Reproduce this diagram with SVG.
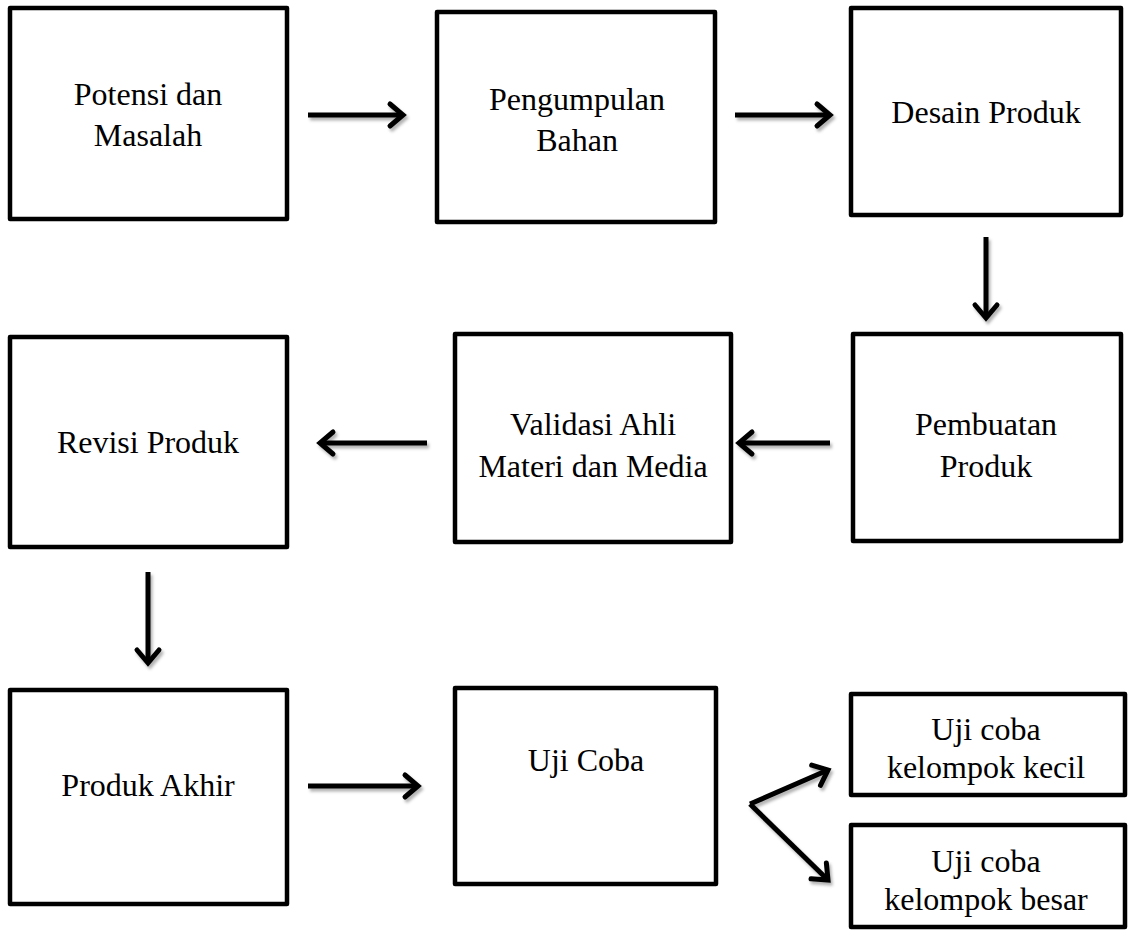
<svg xmlns="http://www.w3.org/2000/svg" width="1130" height="931" viewBox="0 0 1130 931">
<style>
.box{fill:#fff;stroke:#000;stroke-width:4.5;stroke-linejoin:round}
.t{font-family:"Liberation Serif","Times New Roman",serif;font-size:32px;fill:#000;text-anchor:middle}
.c{fill:none;stroke:#000;stroke-width:5;stroke-linecap:butt}
</style>
<defs>
<marker id="ah" markerUnits="userSpaceOnUse" markerWidth="40" markerHeight="40" refX="0" refY="0" viewBox="-20 -20 40 40" orient="auto" overflow="visible">
<path d="M-13,-11 L0,0 L-13,11" fill="none" stroke="#000" stroke-width="5" stroke-linecap="round" stroke-linejoin="miter"/>
</marker>
<filter id="sh" filterUnits="userSpaceOnUse" x="0" y="0" width="1130" height="931">
<feDropShadow dx="2" dy="3" stdDeviation="1.5" flood-color="#000" flood-opacity="0.3"/>
</filter>
</defs>
<g id="n1"><rect class="box" x="10" y="8" width="277" height="211"/><text class="t" x="148" y="105">Potensi dan</text><text class="t" x="148" y="146">Masalah</text></g>
<g id="n2"><rect class="box" x="437" y="12" width="278" height="210"/><text class="t" x="577" y="110">Pengumpulan</text><text class="t" x="577" y="151">Bahan</text></g>
<g id="n3"><rect class="box" x="851" y="8" width="270" height="207"/><text class="t" x="986" y="123">Desain Produk</text></g>
<g id="n4"><rect class="box" x="853" y="334" width="268" height="207"/><text class="t" x="986" y="435">Pembuatan</text><text class="t" x="986" y="477">Produk</text></g>
<g id="n5"><rect class="box" x="455" y="334" width="276" height="208"/><text class="t" x="593" y="435">Validasi Ahli</text><text class="t" x="593" y="477">Materi dan Media</text></g>
<g id="n6"><rect class="box" x="10" y="337" width="277" height="210"/><text class="t" x="148" y="453">Revisi Produk</text></g>
<g id="n7"><rect class="box" x="10" y="690" width="277" height="214"/><text class="t" x="148" y="796">Produk Akhir</text></g>
<g id="n8"><rect class="box" x="455" y="688" width="261" height="196"/><text class="t" x="586" y="771">Uji Coba</text></g>
<g id="n9"><rect class="box" x="851" y="694" width="274" height="101"/><text class="t" x="986" y="740">Uji coba</text><text class="t" x="986" y="778">kelompok kecil</text></g>
<g id="n10"><rect class="box" x="851" y="825" width="274" height="102"/><text class="t" x="986" y="872">Uji coba</text><text class="t" x="986" y="910">kelompok besar</text></g>
<g id="connectors" filter="url(#sh)">
<path class="c" d="M308,115 H403" marker-end="url(#ah)"/>
<path class="c" d="M735,115 H830" marker-end="url(#ah)"/>
<path class="c" d="M986,237 V318" marker-end="url(#ah)"/>
<path class="c" d="M830,443 H739" marker-end="url(#ah)"/>
<path class="c" d="M427,443 H320" marker-end="url(#ah)"/>
<path class="c" d="M148,572 V663" marker-end="url(#ah)"/>
<path class="c" d="M308,786 H418" marker-end="url(#ah)"/>
<path class="c" d="M750,804 L828,770" marker-end="url(#ah)"/>
<path class="c" d="M750,804 L828,880" marker-end="url(#ah)"/>
</g>
</svg>
